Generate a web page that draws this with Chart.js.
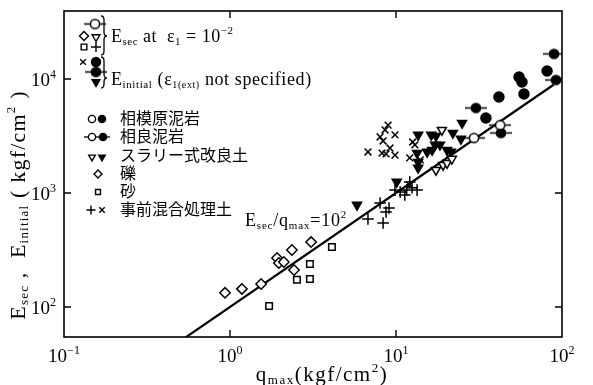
<!DOCTYPE html>
<html>
<head>
<meta charset="utf-8">
<script src="https://cdn.jsdelivr.net/npm/chart.js@4.4.1/dist/chart.umd.min.js"></script>
<style>
  html, body { margin: 0; padding: 0; background: #fff; }
  #wrap { width: 593px; height: 385px; }
</style>
</head>
<body>
<div id="wrap"><canvas id="chart"></canvas></div>
<script>
// --- data: [q_max, E] in kgf/cm2 ---
const sagamiharaInit = [[81.3, 11750], [55.1, 10400], [57.4, 9410], [59.0, 7390], [41.7, 6950], [34.8, 4550]];
const sagaraSec = [[29.5, 3040], [42.4, 3940]];
const sagaraInit = [[30.3, 5570], [42.9, 3360], [89.5, 16600], [92.0, 9800]];
const slurrySec = [[18.9, 3570], [17.4, 1590], [19.2, 1760], [20.3, 1830], [21.7, 1990]];
const slurryInit = [[5.82, 785], [10.1, 1250], [13.6, 3230], [16.3, 3230], [17.4, 3160], [22.0, 3360],
  [25.0, 4110], [24.6, 2980], [17.2, 2640], [18.4, 2640], [15.4, 2290], [16.5, 2380], [13.4, 2240],
  [13.6, 1870], [13.6, 1660], [20.3, 2380], [21.4, 2290]];
const gravelSec = [[0.933, 133], [1.18, 144], [1.54, 159], [1.92, 269], [1.97, 243], [2.11, 248],
  [2.43, 211], [2.36, 316], [3.08, 371]];
const sandSec = [[1.72, 102], [2.53, 173], [3.03, 176], [3.03, 238], [4.11, 336]];
const premixSec = [[6.78, 592], [8.02, 817], [8.36, 546], [9.08, 738], [8.71, 681], [9.86, 1060],
  [10.6, 1020], [11.6, 1060], [12.5, 1110], [13.4, 1060], [12.1, 1250], [11.3, 960]];
const premixInit = [[8.96, 3940], [8.59, 3570], [8.02, 3100], [9.86, 3230], [8.36, 2860], [6.78, 2290],
  [8.24, 2240], [9.2, 2480], [9.86, 2150], [8.71, 2200], [12.6, 2800], [13.0, 2640], [12.1, 2030],
  [14.0, 1950], [12.1, 1175]];
// Esec/qmax = 10^2
const ratioLine = [[0.533, 53.3], [89.0, 8900]];

const xExps = [-1, 0, 1, 2];
const yExps = [2, 3, 4];
const legendNames = ['相模原泥岩', '相良泥岩', 'スラリー式改良土', '礫', '砂', '事前混合処理土'];

const FONT = "'Liberation Serif', 'DejaVu Serif', serif";
const JFONT = "'Noto Sans CJK JP', sans-serif";

const pts = arr => arr.map(p => ({ x: p[0], y: p[1] }));

// circle with a short horizontal bar through it
function barCircle(filled) {
    const c = document.createElement('canvas');
    c.width = 22; c.height = 13;
    const g = c.getContext('2d');
    g.strokeStyle = '#000'; g.lineWidth = 1.5;
    g.beginPath(); g.moveTo(0, 6.5); g.lineTo(22, 6.5); g.stroke();
    g.beginPath(); g.arc(11, 6.5, 4.6, 0, Math.PI * 2);
    g.fillStyle = filled ? '#000' : '#fff';
    g.fill(); g.stroke();
    return c;
}
const openBar = barCircle(false);
const fullBar = barCircle(true);

function mk(data, style, filled, radius, rot) {
    return {
        data: pts(data),
        pointStyle: style,
        pointRadius: radius,
        pointRotation: rot || 0,
        borderColor: '#000',
        backgroundColor: filled ? '#000' : '#fff',
        borderWidth: 1.5,
        showLine: false
    };
}

// text with sub/superscripts: parts = [text, size, dy, family]
function drawRich(ctx, parts, x, y, align, spacing) {
    ctx.letterSpacing = (spacing || 0) + 'px';
    let w = 0;
    parts.forEach(p => {
        ctx.font = p[1] + 'px ' + (p[3] || FONT);
        p.w = ctx.measureText(p[0]).width;
        w += p.w;
    });
    let cx = align === 'center' ? x - w / 2 : align === 'right' ? x - w : x;
    ctx.textAlign = 'left';
    ctx.textBaseline = 'alphabetic';
    parts.forEach(p => {
        ctx.font = p[1] + 'px ' + (p[3] || FONT);
        ctx.fillText(p[0], cx, y + (p[2] || 0));
        cx += p.w;
    });
    ctx.letterSpacing = '0px';
}

function brace(ctx, x, y1, y2, tip) {
    ctx.beginPath();
    ctx.moveTo(x - 3, y1);
    ctx.quadraticCurveTo(x, y1, x, y1 + 4);
    ctx.lineTo(x, tip - 4);
    ctx.quadraticCurveTo(x, tip, x + 3, tip);
    ctx.quadraticCurveTo(x, tip, x, tip + 4);
    ctx.lineTo(x, y2 - 4);
    ctx.quadraticCurveTo(x, y2, x - 3, y2);
    ctx.stroke();
}

const decor = {
    id: 'decor',
    afterDraw(chart) {
        const ctx = chart.ctx;
        const a = chart.chartArea;
        const xs = chart.scales.x, ys = chart.scales.y;
        const H = Chart.helpers;
        ctx.save();
        ctx.strokeStyle = '#000';
        ctx.fillStyle = '#000';

        // frame
        ctx.lineWidth = 1.6;
        ctx.strokeRect(a.left, a.top, a.right - a.left, a.bottom - a.top);

        // inward ticks + labels
        ctx.lineWidth = 1.4;
        xExps.forEach(e => {
            const px = xs.getPixelForValue(Math.pow(10, e));
            if (px > a.left + 1 && px < a.right - 1) {
                ctx.beginPath();
                ctx.moveTo(px, a.bottom); ctx.lineTo(px, a.bottom - 7);
                ctx.moveTo(px, a.top); ctx.lineTo(px, a.top + 7);
                ctx.stroke();
            }
            drawRich(ctx, [['10', 19], [String(e).replace('-', '−'), 12, -8]], px, 362, 'center');
        });
        yExps.forEach(e => {
            const py = ys.getPixelForValue(Math.pow(10, e));
            ctx.beginPath();
            ctx.moveTo(a.left, py); ctx.lineTo(a.left + 7, py);
            ctx.moveTo(a.right, py); ctx.lineTo(a.right - 7, py);
            ctx.stroke();
            drawRich(ctx, [['10', 19], [String(e), 12, -8]], 56, py + 7, 'right');
        });

        // axis titles
        drawRich(ctx, [['q', 21], ['max', 13, 3], ['(kgf/cm', 21], ['2', 13, -9], [')', 21]],
            322, 381, 'center', 1.5);
        ctx.save();
        ctx.translate(25, 205);
        ctx.rotate(-Math.PI / 2);
        drawRich(ctx, [['E', 22], ['sec', 13, 3], [' ,  E', 22], ['initial', 13, 3],
            [' ( kgf/cm', 22], ['2', 13, -10], [' )', 22]], 0, 0, 'center', 1.2);
        ctx.restore();

        // annotation of the fitted line
        drawRich(ctx, [['E', 18], ['sec', 11, 3], ['/q', 18], ['max', 11, 3], ['=10', 18], ['2', 11, -8]],
            245, 226, 'left', 0.8);

        // --- top-left key block ---
        const dp = (style, r, x, y, filled, rot) => {
            ctx.fillStyle = filled ? '#000' : '#fff';
            ctx.lineWidth = 1.4;
            H.drawPoint(ctx, { pointStyle: style, radius: r, rotation: rot || 0, borderWidth: 1.4 }, x, y);
            ctx.fillStyle = '#000';
        };
        dp(openBar, 5, 95, 24);
        dp('rectRot', 4.5, 84, 36, false);
        dp('triangle', 4.5, 96, 37, false, 180);
        dp('rect', 4, 84, 47, false);
        dp('cross', 5, 96, 47);
        dp('crossRot', 4, 83, 62);
        dp('circle', 4.5, 96, 62, true);
        dp(fullBar, 5, 96, 72);
        dp('triangle', 4.5, 96, 82, true, 180);
        ctx.lineWidth = 1.3;
        brace(ctx, 104, 16, 55, 36);
        brace(ctx, 104, 57, 88, 78);
        drawRich(ctx, [['E', 18], ['sec', 11, 3], [' at  ', 18], ['ε', 18], ['1', 11, 3], [' = 10', 18], ['−2', 11, -8]],
            111, 42, 'left', 0.5);
        drawRich(ctx, [['E', 18], ['initial', 11, 3], [' (', 18], ['ε', 18], ['1(ext)', 10, 3], [' not specified)', 18]],
            111, 85, 'left', 0.6);

        // --- material key ---
        const rows = [119, 137, 156, 174, 192, 210];
        dp('circle', 3.6, 92, rows[0], false);
        dp('circle', 3.6, 102, rows[0], true);
        ctx.lineWidth = 1.3;
        ctx.beginPath(); ctx.moveTo(84, rows[1]); ctx.lineTo(110, rows[1]); ctx.stroke();
        dp('circle', 3.6, 92, rows[1], false);
        dp('circle', 3.6, 103, rows[1], true);
        dp('triangle', 3.8, 92, rows[2] + 1, false, 180);
        dp('triangle', 3.8, 102, rows[2] + 1, true, 180);
        dp('rectRot', 4, 98, rows[3], false);
        dp('rect', 3.5, 98, rows[4], false);
        dp('cross', 4.5, 91, rows[5]);
        dp('crossRot', 3.8, 102, rows[5]);
        legendNames.forEach((n, i) => {
            drawRich(ctx, [[n, 16, 0, JFONT]], 120, rows[i] + 5, 'left');
        });

        ctx.restore();
    }
};

new Chart(document.getElementById('chart'), {
    type: 'scatter',
    data: {
        datasets: [
            mk(sagamiharaInit, 'circle', true, 5),
            mk(sagaraSec, openBar, false, 5),
            mk(sagaraInit, fullBar, true, 5),
            mk(slurrySec, 'triangle', false, 5.2, 180),
            mk(slurryInit, 'triangle', true, 5.2, 180),
            mk(gravelSec, 'rectRot', false, 5.2),
            mk(sandSec, 'rect', false, 4.6),
            mk(premixSec, 'cross', false, 5.8),
            mk(premixInit, 'crossRot', false, 4.8),
            {
                data: pts(ratioLine),
                showLine: true,
                borderColor: '#000',
                borderWidth: 2.2,
                pointRadius: 0,
                order: 99
            }
        ]
    },
    plugins: [decor],
    options: {
        responsive: true,
        maintainAspectRatio: false,
        animation: false,
        layout: { padding: { left: 64, right: 31, top: 11, bottom: 48 } },
        plugins: { legend: { display: false }, tooltip: { enabled: false } },
        scales: {
            x: { type: 'logarithmic', min: 0.1, max: 100, display: false },
            y: { type: 'logarithmic', min: 54.5, max: 39500, display: false }
        }
    }
});
</script>
</body>
</html>
